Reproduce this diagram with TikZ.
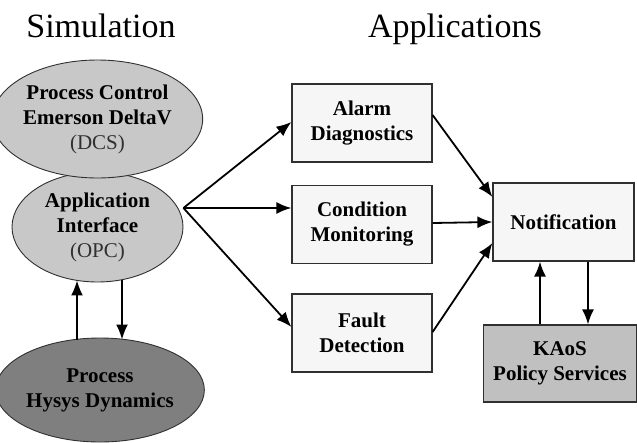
\documentclass[tikz,border=0pt]{standalone}
\usepackage{fontspec}
\setmainfont{Liberation Serif}
\usetikzlibrary{shapes.geometric,arrows.meta}

\definecolor{ovalgray}{HTML}{C8C8C8}
\definecolor{darkoval}{HTML}{7F7F7F}
\definecolor{boxwhite}{HTML}{F6F6F6}
\definecolor{kaosgray}{HTML}{C0C0C0}
\definecolor{edgegray}{HTML}{303030}

\tikzset{
  oval/.style={ellipse, draw=edgegray, line width=0.9pt, fill=ovalgray, inner sep=0pt, align=center,
               font=\fontsize{21}{25}\selectfont},
  appbox/.style={rectangle, draw=edgegray, line width=1.2pt, fill=boxwhite, inner sep=0pt, align=center,
                 minimum width=140pt, minimum height=78pt, font=\fontsize{21}{25}\selectfont\bfseries},
  title/.style={font=\fontsize{34}{40}\selectfont, anchor=base},
  arr/.style={line width=1.8pt, -{Latex[length=15pt,width=12pt]}}
}

\begin{document}
\begin{tikzpicture}[x=1pt,y=-1pt]
  \useasboundingbox (0,0) rectangle (637,442);

  %% titles
  \node[title] (simtitle) at (101,37) {Simulation};
  \node[title] (apptitle) at (455,37) {Applications};

  %% simulation side
  \node[oval, minimum width=171pt, minimum height=110pt] (OPC) at (97.5,227)
    {\textbf{Application}\\ \textbf{Interface}\\ {\color{edgegray}(OPC)}};
  \node[oval, minimum width=171pt, minimum height=118pt] (DCS) at (97.5,119)
    {\textbf{Process Control}\\ \textbf{Emerson DeltaV}\\ {\color{edgegray}(DCS)}};
  \node[oval, fill=darkoval, minimum width=166pt, minimum height=104pt] (Hysys) at (100,390)
    {\textbf{Process}\\ \textbf{Hysys Dynamics}};

  %% applications
  \node[appbox] (Alarm)     at (362,123)   {Alarm\\ Diagnostics};
  \node[appbox] (Condition) at (362,224.5) {Condition\\ Monitoring};
  \node[appbox] (Fault)     at (362,333)   {Fault\\ Detection};

  %% notification and policy
  \node[appbox, minimum width=141pt] (Notification) at (563.5,222) {Notification};
  \node[appbox, fill=kaosgray, minimum width=153pt, minimum height=77pt] (KAoS) at (560,363.5)
    {KAoS\\ Policy Services};

  %% connectors
  \coordinate (fan) at ([yshift=19pt]OPC.east);
  \draw[arr] (fan) -- ([yshift=1pt]Alarm.west);
  \draw[arr] (fan) -- (fan -| Condition.west);
  \draw[arr] (fan) -- ([yshift=6pt]Fault.west);

  \draw[arr] ([yshift=8pt]Alarm.east) -- ([yshift=25pt]Notification.west);
  \draw[arr] ([yshift=1.5pt]Condition.east) -- ([yshift=0pt]Notification.west);
  \draw[arr] ([yshift=1pt]Fault.east) -- ([yshift=-21pt]Notification.west);

  \draw[arr] ([xshift=-20pt]KAoS.north) -- ([xshift=-23.5pt]Notification.south);
  \draw[arr] ([xshift=24.5pt]Notification.south) -- ([xshift=28pt]KAoS.north);

  \draw[arr] ([xshift=-23pt,yshift=-2pt]Hysys.north) -- ([xshift=-20.5pt,yshift=2pt]OPC.south);
  \draw[arr] ([xshift=24.5pt,yshift=2pt]OPC.south) -- ([xshift=22pt,yshift=-2pt]Hysys.north);
\end{tikzpicture}
\end{document}
